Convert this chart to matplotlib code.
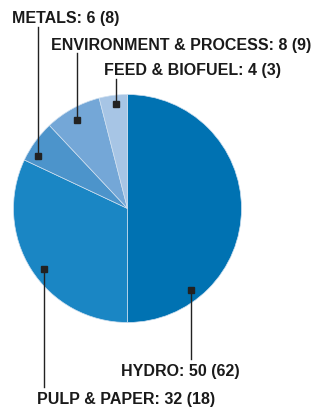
import matplotlib
matplotlib.use("Agg")
import matplotlib.pyplot as plt

categories = ["HYDRO", "PULP & PAPER", "METALS", "ENVIRONMENT & PROCESS", "FEED & BIOFUEL"]
values = [50, 32, 6, 8, 4]
previous = [62, 18, 8, 9, 3]
colors = ["#0072b2", "#1a86c4", "#4c94cb", "#74a7d7", "#a7c5e5"]

W, H = 316, 410
fig = plt.figure(figsize=(W / 100, H / 100), dpi=100)
ax = fig.add_axes([0, 0, 1, 1])

cx, cy, r = 127.5, H - 209.5, 114
ax.pie(values, colors=colors, startangle=90, counterclock=False,
       center=(cx, cy), radius=r, frame=True,
       wedgeprops=dict(edgecolor="#cfe0f0", linewidth=0.5))
ax.set_xlim(0, W)
ax.set_ylim(0, H)
ax.set_aspect("equal")
ax.axis("off")

# annotation layout (pixel coords from top): marker (x, y), line end y, label (x, y center)
layout = {
    "HYDRO": ((191.3, 291.3), 360, (121.5, 371.5)),
    "PULP & PAPER": ((44.3, 270.3), 388, (36.5, 400)),
    "METALS": ((38.3, 157.3), 28, (12, 19)),
    "ENVIRONMENT & PROCESS": ((77.3, 121.3), 54, (50.5, 45.5)),
    "FEED & BIOFUEL": ((116.3, 105.3), 80, (104, 70.5)),
}

for cat, v, p in zip(categories, values, previous):
    (mx, my), ly, (tx, ty) = layout[cat]
    ax.plot([mx, mx], [H - my, H - ly], color="#222222", lw=1.0, zorder=3)
    ax.plot([mx], [H - my], marker="s", ms=4.5, color="#222222", zorder=4)
    ax.text(tx, H - ty, f"{cat}: {v} ({p})", fontsize=11.5, fontweight="bold",
            family=["Liberation Sans", "DejaVu Sans"], color="#1a1a1a",
            ha="left", va="center")

fig.savefig("out.png", dpi=100)
